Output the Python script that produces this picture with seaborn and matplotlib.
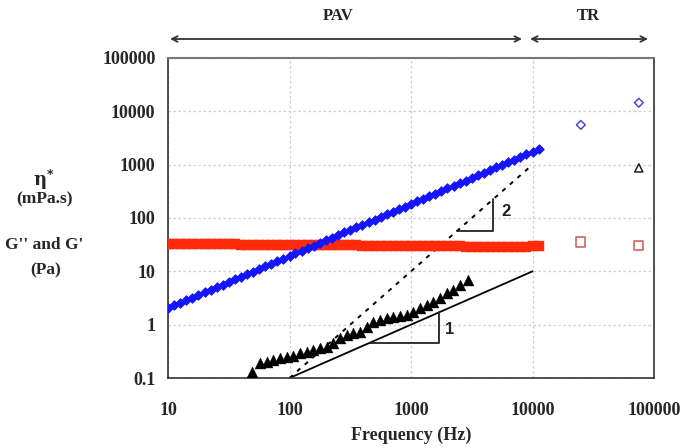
import matplotlib
matplotlib.use("Agg")
import matplotlib.pyplot as plt
import seaborn as sns
import pandas as pd
from matplotlib.ticker import FixedLocator, FixedFormatter, LogLocator, NullFormatter

# ---------------- data ----------------
freq_pav = [10, 11.2, 12.6, 14.1, 15.8, 17.8, 20.0, 22.4, 25.1, 28.2,
            31.6, 35.5, 39.8, 44.7, 50.1, 56.2, 63.1, 70.8, 79.4, 89.1,
            100, 112, 126, 141, 158, 178, 200, 224, 251, 282,
            316, 355, 398, 447, 501, 562, 631, 708, 794, 891,
            1000, 1122, 1259, 1413, 1585, 1778, 1995, 2239, 2512, 2818,
            3162, 3548, 3981, 4467, 5012, 5623, 6310, 7079, 7943, 8913,
            10000, 11220]
eta_pav = [2.05, 2.29, 2.57, 2.87, 3.21, 3.60, 4.03, 4.51, 5.04, 5.64,
           6.31, 7.07, 7.91, 8.85, 9.91, 11.1, 12.4, 13.9, 15.5, 17.4,
           19.4, 21.7, 24.3, 27.2, 30.5, 34.1, 38.2, 42.7, 47.8, 53.5,
           59.7, 66.8, 74.7, 83.6, 93.5, 104.6, 117.1, 131.0, 146.6, 164.0,
           183.6, 205.4, 229.8, 257.1, 287.7, 321.9, 360.2, 403.1, 451.0, 504.7,
           564.7, 631.8, 707.0, 791.1, 885.2, 990.4, 1108, 1240, 1387, 1552,
           1737, 1944]
g2_pav = [32.5, 32.4, 32.4, 32.3, 32.3, 32.2, 32.2, 32.1, 32.0, 32.0,
          31.9, 31.9, 31.8, 31.7, 31.7, 31.6, 31.6, 31.5, 31.4, 31.4,
          31.3, 31.2, 31.2, 31.1, 31.0, 31.0, 30.9, 30.8, 30.8, 30.7,
          30.6, 30.6, 30.5, 30.4, 30.4, 30.3, 30.2, 30.1, 30.1, 30.0,
          29.9, 29.8, 29.8, 29.7, 29.6, 29.5, 29.4, 29.4, 29.3, 29.2,
          29.1, 29.0, 29.0, 28.9, 28.8, 28.8, 28.7, 28.7, 28.8, 29.0,
          29.4, 29.8]
freq_gp = [48.9, 57.2, 64.9, 73.6, 83.5, 94.8, 107, 122, 139, 157,
           178, 202, 230, 261, 296, 335, 380, 432, 490, 556,
           631, 715, 811, 922, 1045, 1186, 1346, 1528, 1734, 1968,
           2230, 2530, 2965]
gp_pav = [0.131, 0.189, 0.202, 0.218, 0.234, 0.251, 0.262, 0.290, 0.312, 0.335,
          0.361, 0.387, 0.448, 0.556, 0.641, 0.690, 0.739, 0.917, 1.14, 1.22,
          1.32, 1.41, 1.46, 1.52, 1.75, 2.03, 2.34, 2.70, 3.13, 3.88,
          4.48, 5.56, 6.90]

freq_tr = [25000, 75000]
eta_tr = [5570, 14500]
g2_tr = [35.6, 30.0]
freq_tr_gp = [75000]
gp_tr = [870]

slope1_x = [100, 10000]
slope1_y = [0.1, 10]
tri1_x = [460, 1710, 1710]
tri1_y = [0.46, 0.46, 1.71]
slope2_x = [100, 9300]
slope2_y = [0.1, 865]
tri2_x = [2390, 4750, 4750]
tri2_y = [57, 57, 226]

y_ticks = [0.1, 1, 10, 100, 1000, 10000, 100000]
y_tick_labels = ["0.1", "1", "10", "100", "1000", "10000", "100000"]
x_ticks = [10, 100, 1000, 10000, 100000]
x_tick_labels = ["10", "100", "1000", "10000", "100000"]

# ---------------- style ----------------
sns.set_style("white")
plt.rcParams['font.family'] = ['Liberation Serif', 'DejaVu Serif']
plt.rcParams['font.weight'] = 'bold'

fig = plt.figure(figsize=(6.8, 4.48), dpi=100)
W, H = 680, 448
ax = fig.add_axes([168 / W, 1 - 378 / H, (654 - 168) / W, (378 - 58) / H])

df_eta = pd.DataFrame({"f": freq_pav, "v": eta_pav})
df_g2 = pd.DataFrame({"f": freq_pav, "v": g2_pav})
df_gp = pd.DataFrame({"f": freq_gp, "v": gp_pav})

ax.set_xscale("log")
ax.set_yscale("log")

# guide lines
ax.plot(slope2_x, slope2_y, color="black", lw=1.4, ls=(0, (2.2, 3.0)), zorder=2)
ax.plot(slope1_x, slope1_y, color="black", lw=1.3, zorder=2)
ax.plot(tri1_x, tri1_y, color="#222222", lw=1.3, zorder=2)
ax.plot(tri2_x, tri2_y, color="#222222", lw=1.3, zorder=2)

sns.scatterplot(data=df_g2, x="f", y="v", marker="s", s=56, color="#ff2a0a",
                edgecolor="#ff2a0a", linewidth=0.3, ax=ax, zorder=3)
sns.scatterplot(data=df_eta, x="f", y="v", marker="D", s=24, color="#1414ff",
                edgecolor="#1414ff", linewidth=0.6, ax=ax, zorder=4)
sns.scatterplot(data=df_gp, x="f", y="v", marker="^", s=62, color="black",
                edgecolor="black", linewidth=0.3, ax=ax, zorder=4)

# TR (open markers)
ax.scatter(freq_tr, eta_tr, marker="D", s=20, facecolors="none",
           edgecolors="#4a4ac8", linewidths=1.1, zorder=4)
ax.scatter(freq_tr, g2_tr, marker="s", s=44, facecolors="none",
           edgecolors="#d05555", linewidths=1.1, zorder=4)
ax.scatter(freq_tr_gp, gp_tr, marker="^", s=34, facecolors="none",
           edgecolors="#222222", linewidths=1.1, zorder=4)

ax.text(2090, 0.8, "1", fontsize=12, fontweight="bold",
        family=["Liberation Sans", "DejaVu Sans"], ha="center", va="center", color="#222222")
ax.text(6030, 130, "2", fontsize=12, fontweight="bold",
        family=["Liberation Sans", "DejaVu Sans"], ha="center", va="center", color="#222222")

ax.set_xlim(10, 100000)
ax.set_ylim(0.1, 100000)

ax.xaxis.set_major_locator(FixedLocator(x_ticks))
ax.xaxis.set_major_formatter(FixedFormatter(x_tick_labels))
ax.yaxis.set_major_locator(FixedLocator(y_ticks))
ax.yaxis.set_major_formatter(FixedFormatter(y_tick_labels))
ax.xaxis.set_minor_locator(LogLocator(base=10, subs=range(2, 10), numticks=20))
ax.yaxis.set_minor_locator(LogLocator(base=10, subs=range(2, 10), numticks=20))
ax.xaxis.set_minor_formatter(NullFormatter())
ax.yaxis.set_minor_formatter(NullFormatter())

ax.tick_params(which="major", direction="out", length=5, width=1, color="#333333",
               labelsize=13)
ax.tick_params(which="minor", direction="in", length=3.5, width=0.8, color="#333333")
ax.tick_params(axis="x", which="major", pad=12)
ax.tick_params(axis="y", which="major", pad=4)
ax.tick_params(top=False, right=False, which="both")
for lab in ax.get_xticklabels() + ax.get_yticklabels():
    lab.set_fontweight("bold")

ax.grid(True, which="major", ls=(0, (2, 2)), color="#cfcfcf", lw=0.9)
ax.set_axisbelow(True)
for s in ["left", "bottom", "right"]:
    ax.spines[s].set_color("#333333")
    ax.spines[s].set_linewidth(1.2)
ax.spines["top"].set_color("#777777")
ax.spines["top"].set_linewidth(1.5)

ax.set_xlabel("Frequency (Hz)", fontsize=13, fontweight="bold")
ax.xaxis.set_label_coords(0.5, -0.152)
ax.set_ylabel("")

# y-label block
fig.text(44 / W, 1 - 180 / H, "η$^{*}$", fontsize=13, fontweight="bold",
         ha="center", va="center", family=["DejaVu Serif"])
fig.text(44 / W, 1 - 199 / H, "(mPa.s)", fontsize=12.5, fontweight="bold", ha="center", va="center")
fig.text(44 / W, 1 - 245 / H, "G'' and G'", fontsize=12.5, fontweight="bold", ha="center", va="center")
fig.text(46 / W, 1 - 270 / H, "(Pa)", fontsize=12.5, fontweight="bold", ha="center", va="center")

# top region arrows
arrow_y = 1 - 39 / H
arr = dict(arrowstyle="<->", color="#333333", lw=1.3, mutation_scale=10,
           shrinkA=0, shrinkB=0)
fig.add_artist(matplotlib.patches.FancyArrowPatch((170 / W, arrow_y), (522 / W, arrow_y),
                                                  transform=fig.transFigure, **arr))
fig.add_artist(matplotlib.patches.FancyArrowPatch((530 / W, arrow_y), (648 / W, arrow_y),
                                                  transform=fig.transFigure, **arr))
fig.text(338 / W, 1 - 16 / H, "PAV", fontsize=12, fontweight="bold", ha="center", va="center")
fig.text(588 / W, 1 - 16 / H, "TR", fontsize=12, fontweight="bold", ha="center", va="center")

fig.savefig("out.png", dpi=100)
